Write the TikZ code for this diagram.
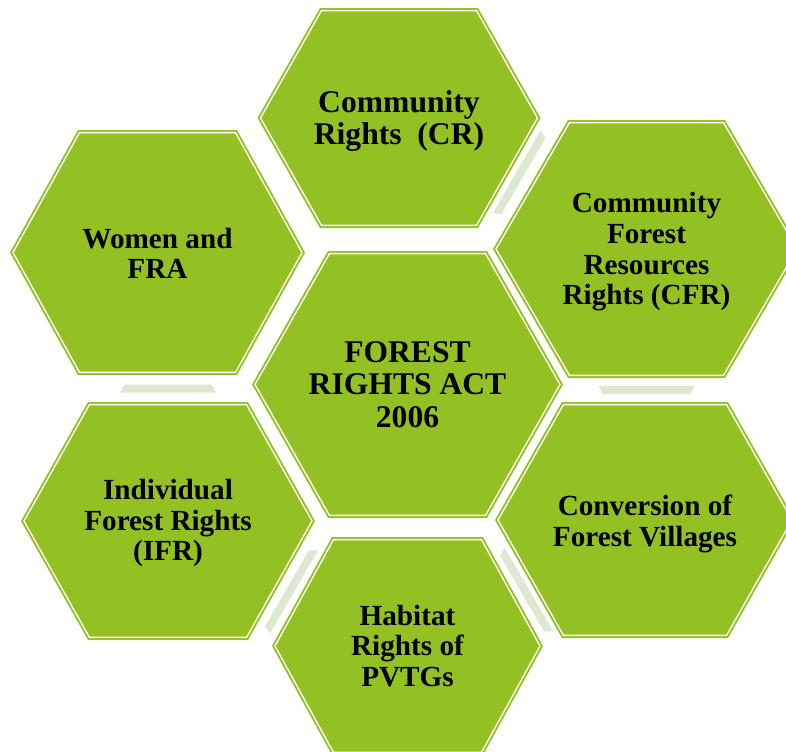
\documentclass[tikz,border=0pt]{standalone}
\usepackage{fontspec}
\setmainfont{Liberation Serif}
\definecolor{hexgreen}{RGB}{147,193,35}
\definecolor{bandgreen}{RGB}{219,233,211}
% #1 options, #2 cx, #3 cy, #4 half-width, #5 half-height, #6 half-top
\newcommand\hexdraw[6]{%
  \path[#1] ({#2-(#4)},{#3}) -- ({#2-(#6)},{#3-(#5)}) -- ({#2+(#6)},{#3-(#5)}) --
    ({#2+(#4)},{#3}) -- ({#2+(#6)},{#3+(#5)}) -- ({#2-(#6)},{#3+(#5)}) -- cycle;}
% filled hexagon with inset white line
\newcommand\hexcell[5]{%
  \hexdraw{fill=hexgreen}{#1}{#2}{#3}{#4}{#5}%
  \hexdraw{draw=white,line width=1pt,line join=miter}{#1}{#2}{#3-3}{#4-2.6}{#5-1.5}}
% trapezoid band: #1 cx, #2 cy, #3 rotation
\newcommand\band[3]{%
  \fill[bandgreen,shift={(#1,#2)},rotate=#3]
    (-48,-4) -- (48,-4) -- (44,4) -- (-44,4) -- cycle;}
\tikzset{
  lblbig/.style={inner sep=0pt, align=center, text=black,
    font=\fontsize{23.7}{24.3}\selectfont\bfseries},
  lbl/.style={inner sep=0pt, align=center, text=black,
    font=\fontsize{21.9}{23}\selectfont\bfseries}
}
\begin{document}
\begin{tikzpicture}[x=0.75pt,y=-0.75pt]
\useasboundingbox (0,0) rectangle (786,751);
\clip (0,0) rectangle (786,751);
\fill[white] (0,0) rectangle (786,751);
% bands between outer hexagons
\band{520}{174}{60}
\band{646.7}{390}{0}
\band{525.5}{591.5}{-60}
\band{290.5}{590}{-120}
\band{168}{388.5}{180}
% hexagons
\hexcell{399}{118}{141.5}{110}{79}
\hexcell{157.5}{252.5}{147.5}{122.5}{79.5}
\hexcell{407.5}{384.5}{155.5}{133.5}{79.5}
\hexcell{646.5}{249}{153.5}{129}{78.5}
\hexcell{645}{520}{150}{118}{83}
\hexcell{168}{521}{147}{119}{80}
\hexcell{407.5}{646}{135.5}{109}{75.5}
% labels
\node[lblbig] (cr) at (399,121) {Community\\Rights\ \ (CR)};
\node[lbl] (women) at (157.5,253.5) {Women and\\FRA};
\node[lblbig] (fra) at (407.5,384.5) {FOREST\\RIGHTS ACT\\2006};
\node[lbl] (cfr) at (646.5,252) {Community\\Forest\\Resources\\Rights (CFR)};
\node[lbl] (cfv) at (645,524) {Conversion of\\Forest Villages};
\node[lbl] (ifr) at (168,523) {Individual\\Forest Rights\\(IFR)};
\node[lbl] (pvtg) at (407.5,646) {Habitat\\Rights of\\PVTGs};
\end{tikzpicture}
\end{document}
